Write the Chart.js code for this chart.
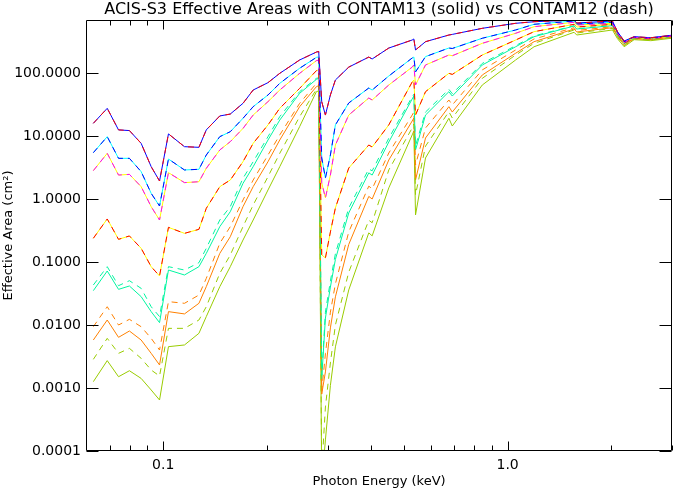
<!DOCTYPE html>
<html>
<head>
<meta charset="utf-8">
<script src="https://cdn.jsdelivr.net/npm/chart.js"></script>
<style>
  html, body { margin: 0; padding: 0; background: #fff; }
</style>
</head>
<body>
<canvas id="myChart" width="673" height="489"></canvas>
<script>
// photon energy grid (keV)
const energy = [0.0627, 0.0688, 0.0742, 0.0798, 0.0863, 0.0923, 0.0976, 0.1036, 0.1153, 0.127,
  0.1334, 0.146, 0.1566, 0.1705, 0.1825, 0.2015, 0.218, 0.249, 0.2785,
  0.2828, 0.2886, 0.2958, 0.3058, 0.3162, 0.3457, 0.3953, 0.4043, 0.4518, 0.5283,
  0.5342, 0.5402, 0.5775, 0.6752, 0.6907, 0.8441, 1.055, 1.193, 1.559, 1.587,
  2.015, 2.084, 2.179, 2.329, 2.604, 3.03];

// effective areas (cm^2), one array per curve
const area1 = [15.9, 27.5, 12.5, 12.2, 7.65, 3.26, 1.93, 10.8, 6.77, 6.61, 12.5, 20.8, 22.3, 33.0, 53.7, 70.3, 98.8, 161, 215,
  220, 35, 21.5, 44.8, 77.4, 124, 179, 167, 249, 334, 347, 232, 314, 401, 410, 512, 615, 652, 694, 622, 669, 453, 322, 377, 363, 401];
const area2 = [5.44, 9.76, 4.42, 4.42, 2.72, 1.23, 0.774, 4.31, 2.89, 2.96, 4.99, 9.76, 11.7, 19.1, 29.2, 44.8, 68.5, 119, 177,
  180, 4.5, 2.15, 4.99, 15.0, 33.4, 57.8, 53.7, 89.6, 173, 179, 104, 182, 249, 245, 356, 482, 593, 669, 600, 638, 440, 314, 373, 359, 397];
const area3 = [2.82, 5.31, 2.40, 2.46, 1.57, 0.756, 0.464, 2.62, 1.82, 1.88, 3.07, 6.0, 8.13, 13.2, 21.5, 35.1, 53.7, 98.8, 157,
  160, 1.8, 1.04, 2.40, 7.2, 21.5, 40.1, 37.3, 64.5, 124, 134, 64.5, 134, 193, 188, 296, 427, 543, 638, 578, 615, 430, 307, 369, 356, 391];
const area4 = [0.238, 0.482, 0.229, 0.259, 0.165, 0.0843, 0.060, 0.355, 0.285, 0.330, 0.711, 1.57, 2.0, 3.91, 7.65, 15.0, 27.5, 57.1, 109,
  112, 0.13, 0.116, 0.30, 0.72, 3.1, 7.2, 6.69, 15.0, 72, 77.4, 21.5, 50.5, 98.9, 95, 193, 334, 453, 593, 537, 593, 420, 299, 363, 350, 387];
const area5 = [0.0351, 0.0720, 0.0368, 0.0416, 0.0282, 0.0163, 0.0109, 0.0746, 0.0622, 0.0843, 0.137, 0.364, 0.629, 1.77, 3.26, 8.64, 17.9, 47.6, 79.3,
  82, 0.0014, 0.0129, 0.040, 0.11, 0.60, 2.6, 2.4, 8.03, 38.7, 43.1, 6.0, 21.5, 50.5, 43.1, 134, 261, 377, 557, 499, 564, 400, 292, 359, 347, 383];
const area5d = [0.0431, 0.0843, 0.0421, 0.0505, 0.0382, 0.0195, 0.0136, 0.0843, 0.0746, 0.0976, 0.165, 0.464, 0.756, 2.13, 3.91, 9.76, 20.3, 50.6, 82.3,
  84, 0.0016, 0.016, 0.050, 0.135, 0.72, 3.0, 2.8, 9.2, 42, 46, 7.0, 24, 55, 47, 142, 272, 388, 564, 505, 570, 405, 294, 361, 349, 385];
const area6 = [0.00578, 0.0120, 0.00637, 0.00803, 0.00578, 0.00355, 0.00232, 0.0163, 0.0150, 0.0221, 0.0406, 0.137, 0.252, 0.756, 1.57, 3.91, 8.64, 29.2, 60.7,
  63, 0.0008, 0.0018, 0.009, 0.028, 0.19, 1.1, 1.0, 4.16, 17.3, 19.3, 2.0, 9.3, 29.2, 24.0, 93, 206, 314, 499, 448, 524, 380, 278, 350, 338, 373];
const area6d = [0.0094, 0.0195, 0.0100, 0.0123, 0.0094, 0.00614, 0.00401, 0.0235, 0.0221, 0.0299, 0.0550, 0.198, 0.364, 0.964, 2.0, 4.99, 10.4, 33.0, 68.5,
  71, 0.0009, 0.0035, 0.016, 0.045, 0.30, 1.6, 1.45, 5.37, 21.5, 24, 3.46, 13.4, 37.3, 31.1, 112, 232, 347, 524, 473, 543, 390, 286, 356, 343, 377];
const area7 = [0.00126, 0.00272, 0.00151, 0.00188, 0.00142, 0.00093, 0.000645, 0.00453, 0.00482, 0.00738, 0.0136, 0.0406, 0.0843, 0.223, 0.464, 1.39, 3.26, 14.1, 50.6,
  52, 0.00003, 0.00015, 0.0011, 0.0045, 0.036, 0.29, 0.26, 1.50, 10.4, 12.0, 0.557, 4.48, 19.1, 14.4, 64.5, 161, 261, 443, 401, 482, 350, 261, 338, 326, 359];
const area7d = [0.00285, 0.00614, 0.00355, 0.00426, 0.00296, 0.00193, 0.00155, 0.00885, 0.00885, 0.0120, 0.0195, 0.0661, 0.129, 0.364, 0.803, 2.26, 5.31, 20.3, 55.1,
  57, 0.00005, 0.0005, 0.0025, 0.010, 0.069, 0.46, 0.42, 2.89, 13.4, 15.5, 1.16, 6.9, 24.3, 19.3, 82.4, 193, 296, 482, 431, 512, 370, 271, 347, 334, 369];

// axis ticks
const xMajor = [0.1, 1.0];
const xMajorLabels = ['0.1', '1.0'];
const xMinor = [0.07, 0.08, 0.09, 0.2, 0.3, 0.4, 0.5, 0.6, 0.7, 0.8, 0.9, 2, 3];
const yMajor = [0.0001, 0.001, 0.01, 0.1, 1, 10, 100];
const yMajorLabels = ['0.0001', '0.0010', '0.0100', '0.1000', '1.0000', '10.0000', '100.0000'];

const titleText = 'ACIS-S3 Effective Areas with CONTAM13 (solid) vs CONTAM12 (dash)';

const line = (values, color, dashed) => ({
  data: energy.map((e, i) => ({ x: e, y: values[i] })),
  borderColor: color,
  borderWidth: 1,
  borderDash: dashed ? [6, 5] : [],
  pointRadius: 0,
  tension: 0,
  order: dashed ? 0 : 1
});

const datasets = [
  line(area1, '#0000ff', false), line(area1, '#ff0000', true),
  line(area2, '#00ffff', false), line(area2, '#0000ff', true),
  line(area3, '#ffff00', false), line(area3, '#ff00ff', true),
  line(area4, '#ffff00', false), line(area4, '#ff0000', true),
  line(area5, '#00f5a0', false), line(area5d, '#00f5a0', true),
  line(area6, '#ff8000', false), line(area6d, '#ff8000', true),
  line(area7, '#99cc00', false), line(area7d, '#99cc00', true)
];

// IDL style box: inward ticks on all four sides, title over the plot
const frame = {
  id: 'frame',
  afterDatasetsDraw(chart) {
    const { ctx, chartArea: a, scales: { x, y } } = chart;
    const L = Math.round(a.left) + 0.5, R = Math.round(a.right) - 0.5;
    const T = Math.round(a.top) + 0.5, B = Math.round(a.bottom) - 0.5;
    ctx.save();
    ctx.strokeStyle = '#000';
    ctx.lineWidth = 1;
    ctx.beginPath();
    ctx.rect(L, T, R - L, B - T);
    const xt = (v, len) => {
      const p = Math.round(x.getPixelForValue(v)) + 0.5;
      ctx.moveTo(p, B); ctx.lineTo(p, B - len);
      ctx.moveTo(p, T); ctx.lineTo(p, T + len);
    };
    xMajor.forEach(v => xt(v, 9));
    xMinor.forEach(v => xt(v, 5));
    yMajor.forEach(v => {
      const p = Math.round(y.getPixelForValue(v)) + 0.5;
      ctx.moveTo(L, p); ctx.lineTo(L + 12, p);
      ctx.moveTo(R, p); ctx.lineTo(R - 12, p);
    });
    ctx.stroke();
    ctx.fillStyle = '#000';
    ctx.font = '16px "DejaVu Sans"';
    ctx.textAlign = 'center';
    ctx.textBaseline = 'middle';
    ctx.fillText(titleText, (a.left + a.right) / 2, 10);
    ctx.restore();
  }
};

const font = { family: 'DejaVu Sans', size: 14, weight: 'normal' };
const titleFont = { family: 'DejaVu Sans', size: 13, weight: 'normal' };

new Chart(document.querySelector('#myChart').getContext('2d'), {
  type: 'line',
  data: { datasets: datasets },
  options: {
    responsive: false,
    animation: false,
    layout: { padding: { top: 20, right: 1 } },
    plugins: {
      legend: { display: false },
      tooltip: { enabled: false }
    },
    scales: {
      x: {
        type: 'logarithmic',
        min: 0.0597,
        max: 3.0,
        afterBuildTicks: s => { s.ticks = xMajor.map(v => ({ value: v })); },
        afterFit: s => { s.height = 38; },
        ticks: { callback: (v, i) => xMajorLabels[i], color: '#000', font: font, padding: 6, maxRotation: 0, autoSkip: false },
        grid: { display: false, drawTicks: false },
        border: { display: false },
        title: { display: true, text: 'Photon Energy (keV)', color: '#000', font: titleFont, padding: { top: 0, bottom: 0 } }
      },
      y: {
        type: 'logarithmic',
        min: 0.0001,
        max: 694,
        afterBuildTicks: s => { s.ticks = yMajor.map(v => ({ value: v })); },
        afterFit: s => { s.width = 86; },
        ticks: { callback: (v, i) => yMajorLabels[i], color: '#000', font: font, padding: 5, autoSkip: false },
        grid: { display: false, drawTicks: false },
        border: { display: false },
        title: { display: true, text: 'Effective Area (cm²)', color: '#000', font: titleFont, padding: { top: 1, bottom: 0 } }
      }
    }
  },
  plugins: [frame]
});
</script>
</body>
</html>
